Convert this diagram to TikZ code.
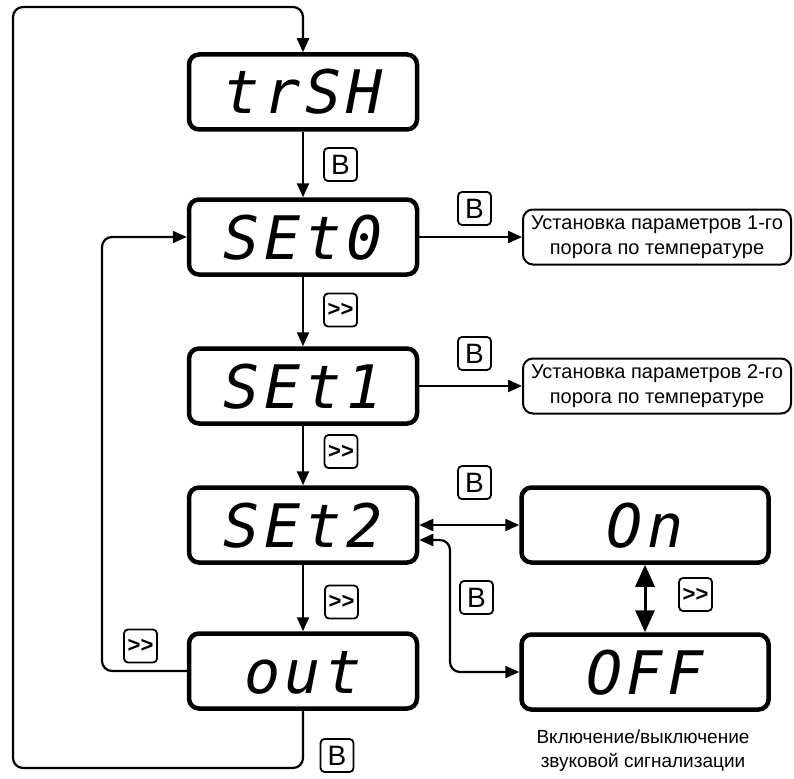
\documentclass[tikz,border=0pt]{standalone}
\usepackage{fontspec}
\setmainfont{Liberation Sans}
\newfontfamily\segfont[LetterSpace=8]{DejaVu Sans Mono}
\usetikzlibrary{arrows.meta}

\begin{document}
\begin{tikzpicture}[x=1pt,y=-1pt,
	disp/.style={draw,line width=4.5pt,rounded corners=10pt,minimum width=228pt,minimum height=75pt,
		text height=44pt,text depth=0pt,font=\segfont\itshape\fontsize{60}{60}\selectfont},
	note/.style={draw,line width=2pt,rounded corners=10pt,align=center,minimum width=268pt,minimum height=55pt,
		inner sep=2pt,font=\fontsize{20}{25}\selectfont},
	key/.style={draw,line width=1.8pt,rounded corners=4pt,minimum size=33pt,inner sep=0pt,font=\fontsize{28}{28}\selectfont},
	fwd/.style={key,font=\bfseries\fontsize{22}{22}\selectfont},
	arr/.style={line width=2.2pt,-{Triangle[length=14pt,width=12pt]}},
	darr/.style={line width=2.2pt,{Triangle[length=14pt,width=12pt]}-{Triangle[length=14pt,width=12pt]}},
	bigarr/.style={line width=3pt,{Triangle[length=22pt,width=19pt]}-{Triangle[length=22pt,width=19pt]}}]
	\useasboundingbox (0,0) rectangle (794,778);
	% displays
	\node[disp] (trSH) at (303,92) {trSH};
	\node[disp] (SEt0) at (303,237) {SEt0};
	\node[disp] (SEt1) at (303,386) {SEt1};
	\node[disp] (SEt2) at (303,525) {SEt2};
	\node[disp] (out) at (303,671) {out};
	\node[disp,minimum width=247pt] (On) at (645,525) {On};
	\node[disp,minimum width=247pt] (OFF) at (645,672) {OFF};
	% notes
	\node[note] (par1) at (657,237) {Установка параметров 1-го\\порога по температуре};
	\node[note] (par2) at (657,386) {Установка параметров 2-го\\порога по температуре};
	\node[align=center,inner sep=1pt,font=\fontsize{19}{24}\selectfont] (cap) at (643,751) {Включение/выключение\\звуковой сигнализации};
	% keys
	\node[key] (b1) at (340.5,164.5) {В};
	\node[key] (b2) at (474.5,208.5) {В};
	\node[key] (b3) at (474.5,353.5) {В};
	\node[key] (b4) at (474.5,482.5) {В};
	\node[key] (b5) at (476.5,597.5) {В};
	\node[key] (b6) at (337,755.5) {В};
	\node[fwd] (n1) at (340.5,310) {{>}{>}};
	\node[fwd] (n2) at (341,451.5) {{>}{>}};
	\node[fwd] (n3) at (341.5,602) {{>}{>}};
	\node[fwd] (n4) at (140.5,646) {{>}{>}};
	\node[fwd] (n5) at (695.5,594.5) {{>}{>}};
	% corners of the loops
	\coordinate (lo) at (13,768);
	\coordinate (lu) at (13,7);
	\coordinate (li) at (102,671);
	\coordinate (lk) at (450,672);
	% connectors
	\draw[arr] (trSH) -- (SEt0);
	\draw[arr] (SEt0) -- (SEt1);
	\draw[arr] (SEt1) -- (SEt2);
	\draw[arr] (SEt2) -- (out);
	\draw[arr] (SEt0.east) -- (par1.west);
	\draw[arr] (SEt1.east) -- (SEt1.east -| par2.west);
	\draw[arr,rounded corners=10pt] (out.south) -- (out.south |- lo) -- (lo) -- (lu) -- (trSH.north |- lu) -- (trSH.north);
	\draw[arr,rounded corners=10pt] (out.west) -- (li) -- (li |- SEt0.west) -- (SEt0.west);
	\draw[darr] (SEt2.east) -- (On.west);
	\draw[darr,rounded corners=10pt] ([yshift=-15pt]SEt2.east) -- ([yshift=-15pt]SEt2.east -| lk) -- (lk |- OFF.west) -- (OFF.west);
	\draw[bigarr] (On.south) -- (OFF.north);
\end{tikzpicture}
\end{document}
